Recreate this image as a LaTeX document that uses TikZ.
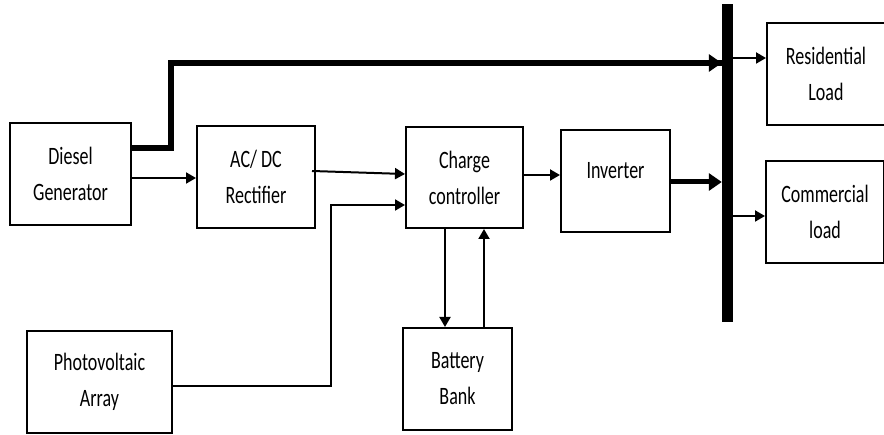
\documentclass[tikz,border=0pt]{standalone}
\usepackage{fontspec}
\setmainfont{Carlito}[FakeStretch=0.72]
\usetikzlibrary{arrows.meta,calc}
\begin{document}
\begin{tikzpicture}[x=1pt,y=-1pt,
  box/.style={draw,line width=2pt,align=center,inner sep=0pt,font=\fontsize{25}{36}\selectfont},
  thin/.style={line width=2pt,-{Triangle[length=10pt,width=11pt]}},
  thickline/.style={line width=6pt,-{Triangle[length=13pt,width=17pt]}},
  plain/.style={line width=2pt}]
\useasboundingbox (0,0) rectangle (884,435);
\node[box,minimum width=121pt,minimum height=102pt] (dg) at (70.5,174) {Diesel\\Generator};
\node[box,minimum width=118pt,minimum height=102pt] (rec) at (256,177) {AC/ DC\\Rectifier};
\node[box,minimum width=117pt,minimum height=101pt] (cc) at (464.5,177.5) {Charge\\controller};
\node[box,minimum width=109pt,minimum height=102pt,text height=17pt,text depth=22pt] (inv) at (615.5,181) {Inverter};
\node[box,minimum width=118pt,minimum height=102pt] (res) at (826,74) {Residential\\Load};
\node[box,minimum width=118pt,minimum height=102pt] (com) at (825,212) {Commercial\\load};
\node[box,minimum width=145pt,minimum height=102pt] (pv) at (99.5,382) {Photovoltaic\\Array};
\node[box,minimum width=109pt,minimum height=102pt] (bat) at (457.5,379) {Battery\\Bank};
\node[fill,inner sep=0pt,minimum width=11pt,minimum height=318pt] (bus) at (727.5,163) {};
\coordinate (dgout) at ($(dg.north east)+(0,26.5)$);
\coordinate (bend) at (171,63);
\draw[line width=6pt,line join=miter] (dgout) -- (dgout -| bend) -- (bend) -- (bus.west |- bend);
\draw[thickline] ($(bend)+(500,0)$) -- (bus.west |- bend);
\draw[thin] ($(dg.east)+(0,4)$) coordinate (a1) -- (rec.west |- a1);
\draw[thin] ($(rec.east)+(-4,-6)$) -- ($(cc.west)+(0,-3.5)$);
\coordinate (pvup) at (331,205);
\draw[thin] ($(pv.east)+(0,4)$) coordinate (a2) -- (a2 -| pvup) -- (pvup) -- (cc.west |- pvup);
\draw[thin] ($(cc.east)+(0,-2.5)$) coordinate (a3) -- (inv.west |- a3);
\draw[thickline,line width=5pt] ($(inv.east)+(0,1)$) coordinate (a4) -- (bus.west |- a4);
\coordinate (r1) at (0,58);
\draw[thin] (bus.east |- r1) -- (res.west |- r1);
\coordinate (c1) at (0,216);
\draw[thin] (bus.east |- c1) -- (com.west |- c1);
\draw[thin] ($(cc.south)+(-19.5,0)$) coordinate (a5) -- (bat.north -| a5);
\draw[thin] ($(bat.north)+(26.5,0)$) coordinate (a6) -- (cc.south -| a6);
\end{tikzpicture}
\end{document}
